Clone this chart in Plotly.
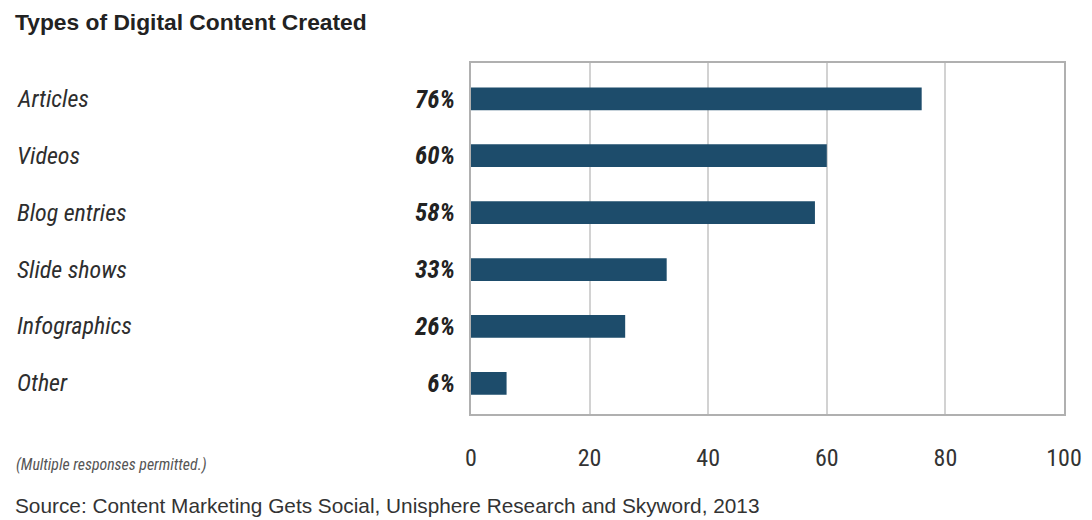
import plotly.graph_objects as go

categories = ["Articles", "Videos", "Blog entries", "Slide shows", "Infographics", "Other"]
values = [76, 60, 58, 33, 26, 6]
x_ticks = [0, 20, 40, 60, 80, 100]

title_text = "Types of Digital Content Created"
note_text = "(Multiple responses permitted.)"
source_text = "Source: Content Marketing Gets Social, Unisphere Research and Skyword, 2013"

BAR = "#1d4c6b"
NARROW = "Liberation Sans Narrow, Arial Narrow, Roboto Condensed, Roboto, sans-serif"
SANS = "Liberation Sans, Arial, Helvetica, sans-serif"

# page body has an 8px default margin; figure is sized/offset accordingly
OFF = 8
W, H = 1092 - OFF, 520 - OFF
L, R, T, B = 471 - OFF, 28, 63 - OFF, 106
plot_w = W - L - R
plot_h = H - T - B


def px_x(X):
    return ((X - OFF) - L) / plot_w


def px_y(Y):
    return (H - B - (Y - OFF)) / plot_h


fig = go.Figure(go.Bar(
    x=values, y=categories, orientation="h",
    marker=dict(color=BAR, line=dict(width=0)),
    width=0.4, hoverinfo="skip",
))

for cat in categories:
    fig.add_annotation(
        x=px_x(15), xref="paper", y=cat, yref="y",
        text=cat, showarrow=False, xanchor="left", yanchor="middle",
        font=dict(family=NARROW, size=24, color="#2e2e2e", style="italic"),
    )

fig.add_annotation(x=px_x(14), xref="paper", y=px_y(464), yref="paper",
                   text=note_text, showarrow=False, xanchor="left", yanchor="middle",
                   font=dict(family=NARROW, size=15.8, color="#555555", style="italic"))
fig.add_annotation(x=px_x(13), xref="paper", y=px_y(505), yref="paper",
                   text=source_text, showarrow=False, xanchor="left", yanchor="middle",
                   font=dict(family=SANS, size=20.8, color="#333333"))
fig.add_annotation(x=px_x(13), xref="paper", y=px_y(22), yref="paper",
                   text="<b>" + title_text + "</b>", showarrow=False, xanchor="left", yanchor="middle",
                   font=dict(family=SANS, size=22.8, color="#222222"))

fig.update_layout(
    width=W, height=H,
    margin=dict(l=L, r=R, t=T, b=B, autoexpand=False),
    paper_bgcolor="white", plot_bgcolor="white",
    showlegend=False,
    xaxis=dict(
        range=[0, 100], tickvals=x_ticks, ticktext=[str(v) for v in x_ticks],
        showgrid=True, gridcolor="#d2d2d2", gridwidth=1.5,
        zeroline=False, showline=True, linecolor="#b0b0b0", linewidth=2, mirror=True,
        ticks="", ticklabelstandoff=21, automargin=False,
        tickfont=dict(family=NARROW, size=24, color="#333333"),
    ),
    yaxis=dict(
        type="category", categoryorder="array", categoryarray=categories,
        range=[5.54, -0.63],
        tickvals=categories, ticktext=[f"{v}%" for v in values],
        showgrid=False, zeroline=False, showline=True, linecolor="#b0b0b0", linewidth=2, mirror=True,
        ticks="", ticklabelstandoff=9, automargin=False,
        tickfont=dict(family=NARROW, size=25, color="#222222", weight="bold", style="italic"),
    ),
)

fig.write_html("out.html")
